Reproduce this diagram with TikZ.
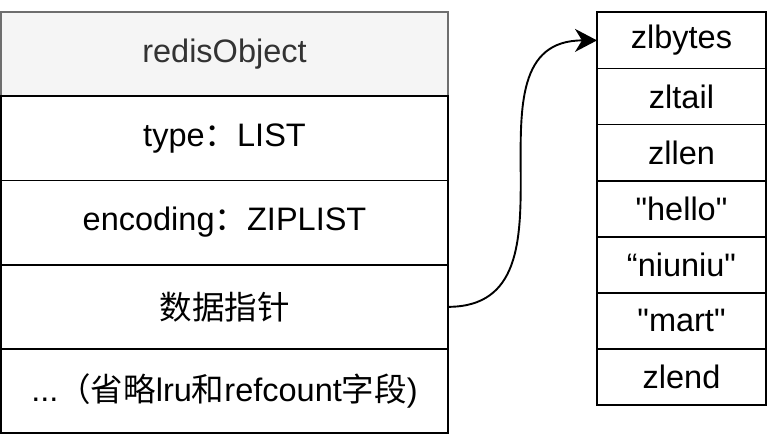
\documentclass[tikz,border=0pt]{standalone}
\usepackage{fontspec}
\setmainfont{Liberation Sans}
\newfontfamily\cjk{Noto Sans CJK SC}
\newfontfamily\qfont[Ligatures=ResetAll]{Liberation Sans}
\usetikzlibrary{arrows.meta,positioning}
\definecolor{headgray}{RGB}{245,245,245}
\definecolor{headline}{RGB}{110,110,110}
\definecolor{headtext}{RGB}{51,51,51}
\newcommand{\dq}{{\qfont\char34}}
\tikzset{
  objrow/.style={draw=black,line width=1.8pt,minimum width=447pt,minimum height=84.25pt,
    inner sep=0pt,outer sep=0pt,font=\fontsize{32.5}{38}\selectfont},
  objhead/.style={objrow,draw=headline,fill=headgray,text=headtext},
  zlcell/.style={draw=black,line width=1.8pt,minimum width=169pt,minimum height=56.1pt,
    inner sep=0pt,outer sep=0pt,font=\fontsize{32.5}{38}\selectfont},
  ptrarrow/.style={-{Stealth[length=22pt,width=23pt,inset=7pt]},line width=1.9pt},
}

\begin{document}
\begin{tikzpicture}[x=1pt,y=-1pt]
  \useasboundingbox (0,0) rectangle (772,435);
  % redisObject
  \node[objhead] (head) at (224.5,54.1) {redisObject};
  \node[objrow,below=0pt of head] (type) {type{\cjk ：}LIST};
  \node[objrow,below=0pt of type] (enc) {encoding{\cjk ：}ZIPLIST};
  \node[objrow,below=0pt of enc] (ptr) {{\cjk 数据指针}};
  \node[objrow,below=0pt of ptr] (rest) {...{\cjk （省略}lru{\cjk 和}refcount{\cjk 字段})};
  % ziplist
  \node[zlcell] (zlbytes) at (681.5,40.4) {zlbytes};
  \node[zlcell,below=0pt of zlbytes] (zltail) {zltail};
  \node[zlcell,below=0pt of zltail] (zllen) {zllen};
  \node[zlcell,below=0pt of zllen] (hello) {\dq hello\dq};
  \node[zlcell,below=0pt of hello] (niuniu) {“niuniu\dq};
  \node[zlcell,below=0pt of niuniu] (mart) {\dq mart\dq};
  \node[zlcell,below=0pt of mart] (zlend) {zlend};
  \draw[ptrarrow] (ptr.east) to[out=0,in=180,looseness=1.2] (zlbytes.west);
\end{tikzpicture}
\end{document}
